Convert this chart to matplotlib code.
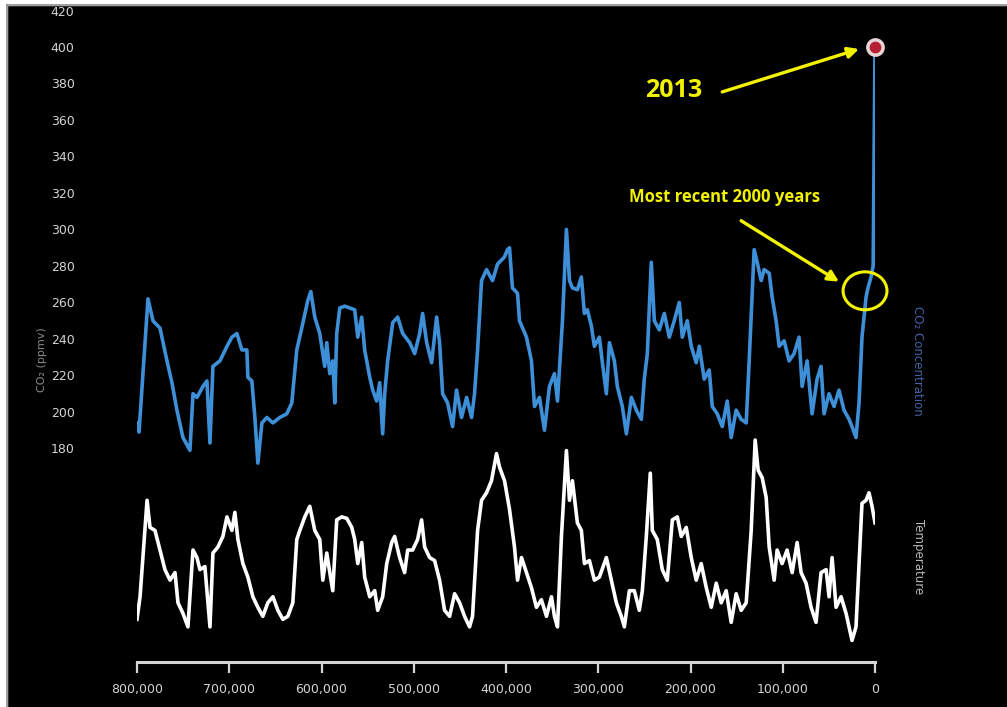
import matplotlib
matplotlib.use("Agg")
import matplotlib.pyplot as plt
from matplotlib.patches import Ellipse, Rectangle
from matplotlib.lines import Line2D

# CO2 from ice cores: age in thousands of years before present, ppmv
co2_age = [800.0, 797.8, 788.1, 782.7, 775.1, 767.5, 762.1, 756.7, 750.2, 742.6,
           739.3, 735.0, 728.5, 724.2, 720.9, 717.7, 710.1, 702.5, 697.1, 691.7,
           686.3, 680.9, 679.8, 675.5, 672.2, 669.0, 664.6, 659.2, 652.7, 645.2,
           637.6, 632.2, 626.8, 621.4, 614.9, 611.6, 607.3, 601.9, 596.5, 594.3,
           591.0, 587.8, 585.6, 583.5, 580.2, 574.8, 569.4, 564.0, 560.7, 556.4,
           553.2, 547.7, 544.5, 540.2, 536.9, 533.7, 531.5, 528.3, 522.8, 517.4,
           512.0, 504.4, 499.0, 493.6, 490.4, 486.0, 480.6, 475.2, 472.0, 468.7,
           463.3, 457.9, 453.6, 448.2, 442.7, 437.3, 434.1, 430.8, 426.5, 421.1,
           414.6, 409.2, 401.6, 398.4, 396.2, 393.0, 387.5, 385.4, 377.8, 372.4,
           369.1, 363.7, 358.3, 352.9, 347.5, 344.2, 338.8, 334.5, 331.2, 328.0,
           322.6, 318.3, 315.0, 311.8, 307.4, 304.2, 298.8, 295.5, 291.2, 287.9,
           282.5, 279.3, 273.9, 269.5, 264.1, 258.7, 253.3, 250.1, 246.8, 242.5,
           239.2, 233.8, 228.4, 223.0, 217.6, 212.2, 208.9, 203.5, 199.2, 193.8,
           190.5, 185.1, 179.7, 176.4, 171.0, 165.6, 160.2, 155.9, 150.5, 145.1,
           139.6, 136.4, 131.0, 127.7, 123.4, 120.2, 114.7, 111.5, 107.2, 103.9,
           98.5, 93.1, 87.7, 82.3, 79.0, 73.6, 68.2, 62.8, 58.5, 55.2,
           49.8, 44.4, 39.0, 33.6, 28.1, 24.9, 20.6, 17.3, 14.1, 9.7,
           7.6, 4.3, 2.0, 0.0]
co2_ppm = [194, 189, 262, 250, 246, 228, 216, 201, 186, 179,
           210, 208, 214, 217, 183, 225, 228, 236, 241, 243,
           234, 234, 219, 217, 197, 172, 194, 197, 194, 197,
           199, 205, 234, 246, 261, 266, 252, 243, 225, 238,
           221, 228, 205, 243, 257, 258, 257, 256, 241, 252,
           234, 219, 212, 206, 216, 188, 210, 228, 249, 252,
           243, 238, 232, 243, 254, 238, 227, 252, 238, 210,
           205, 192, 212, 197, 208, 197, 210, 234, 272, 278,
           272, 281, 285, 289, 290, 268, 265, 250, 241, 228,
           203, 208, 190, 214, 221, 206, 250, 300, 272, 268,
           267, 274, 254, 256, 247, 236, 241, 227, 210, 238,
           228, 214, 203, 188, 208, 201, 196, 218, 232, 282,
           250, 245, 254, 241, 250, 260, 241, 250, 236, 227,
           236, 218, 223, 203, 199, 192, 206, 186, 201, 196,
           194, 228, 289, 282, 272, 278, 276, 263, 250, 236,
           239, 228, 232, 241, 214, 228, 199, 218, 225, 199,
           210, 203, 212, 201, 196, 192, 186, 205, 241, 263,
           268, 274, 280, 400]

# Temperature anomaly (deg C), same age units
temp_age = [800.0, 796.7, 789.1, 785.9, 780.5, 775.1, 769.7, 764.2, 758.8, 755.6,
            750.2, 744.8, 739.3, 735.0, 731.8, 726.4, 720.9, 717.7, 712.3, 706.9,
            702.5, 697.1, 693.9, 690.6, 685.2, 679.8, 674.4, 669.0, 663.6, 658.2,
            652.7, 647.3, 641.9, 636.5, 631.1, 626.8, 623.5, 618.1, 612.7, 607.3,
            601.9, 598.6, 594.3, 591.0, 587.8, 583.5, 578.1, 572.6, 567.2, 564.0,
            560.7, 556.4, 553.2, 547.7, 542.3, 539.1, 533.7, 529.3, 523.9, 520.7,
            515.3, 509.9, 506.6, 501.2, 495.8, 491.5, 488.2, 482.8, 477.4, 472.0,
            466.6, 461.1, 455.7, 450.3, 444.9, 439.5, 436.3, 430.8, 426.5, 421.1,
            415.7, 410.3, 407.0, 401.6, 396.2, 390.8, 387.5, 383.2, 377.8, 372.4,
            367.0, 361.6, 356.1, 350.7, 347.5, 344.2, 339.9, 334.5, 331.2, 328.0,
            322.6, 318.3, 315.0, 309.6, 304.2, 298.8, 291.2, 285.8, 280.4, 275.0,
            271.7, 266.3, 260.9, 255.5, 252.2, 247.9, 243.6, 241.4, 236.0, 230.6,
            225.2, 219.7, 214.3, 210.0, 204.6, 199.2, 193.8, 188.4, 182.9, 177.5,
            172.1, 166.7, 161.3, 155.9, 150.5, 145.1, 139.6, 134.2, 129.9, 126.7,
            122.3, 118.0, 114.7, 109.3, 106.1, 100.7, 95.3, 89.8, 84.4, 80.1,
            74.7, 69.3, 63.9, 58.5, 53.0, 49.8, 46.5, 42.2, 36.8, 31.4,
            28.1, 24.9, 20.6, 17.3, 14.1, 9.7, 6.5, 3.2, 0.0]
temp_anom = [-8.1, -6.6, -0.2, -2.0, -2.2, -3.5, -4.8, -5.5, -5.0, -7.0,
             -7.7, -8.6, -3.5, -4.0, -4.8, -4.6, -8.6, -3.7, -3.3, -2.6,
             -1.3, -2.2, -1.0, -2.8, -4.4, -5.3, -6.6, -7.3, -7.9, -7.0,
             -6.6, -7.5, -8.1, -7.9, -7.0, -2.8, -2.2, -1.3, -0.6, -2.2,
             -2.8, -5.5, -3.7, -5.0, -6.2, -1.5, -1.3, -1.4, -2.0, -2.8,
             -4.4, -3.0, -5.3, -6.6, -6.2, -7.5, -6.6, -4.4, -3.0, -2.6,
             -4.0, -5.0, -3.5, -3.5, -2.8, -1.5, -3.3, -4.0, -4.2, -5.5,
             -7.5, -7.9, -6.4, -7.0, -7.9, -8.6, -7.9, -2.2, -0.2, 0.3,
             1.1, 2.9, 2.0, 1.1, -0.8, -3.3, -5.5, -4.0, -5.0, -6.0,
             -7.3, -6.8, -7.9, -6.6, -7.9, -8.6, -2.6, 3.1, -0.2, 1.1,
             -1.7, -2.2, -4.4, -4.2, -5.5, -5.3, -4.0, -5.5, -7.0, -7.9,
             -8.6, -6.2, -6.2, -7.5, -6.2, -2.6, 1.6, -2.2, -2.8, -4.8,
             -5.5, -1.5, -1.3, -2.6, -2.0, -4.0, -5.5, -4.4, -6.0, -7.3,
             -5.7, -7.0, -6.2, -8.3, -6.4, -7.5, -7.0, -2.2, 3.8, 1.8,
             1.3, 0.0, -3.3, -5.5, -3.5, -4.4, -3.5, -5.0, -3.0, -5.0,
             -5.7, -7.3, -8.3, -5.0, -4.8, -6.6, -4.0, -7.3, -6.6, -7.7,
             -8.6, -9.5, -8.6, -4.4, -0.4, -0.2, 0.3, -0.6, -1.7]

age_ticks = [800, 700, 600, 500, 400, 300, 200, 100, 0]
co2_ticks = list(range(180, 421, 20))

BLUE = "#3d8fd8"
YELLOW = "#f2f200"
GREY = "#d4d4d4"

fig = plt.figure(figsize=(10.07, 7.07), dpi=100, facecolor="black")
ax = fig.add_axes([137 / 1007, 45 / 707, 738 / 1007, 651.5 / 707])
ax.set_facecolor("black")

ax.plot(co2_age, co2_ppm, color=BLUE, lw=2.6, solid_joinstyle="round", zorder=3)
ax.plot([co2_age[-1]], [co2_ppm[-1]], marker="o", ms=11, mfc="#b52035",
        mec="#e8d4d6", mew=2.5, zorder=5, clip_on=False)

ax.set_xlim(800, 0)
ax.set_ylim(63, 420)

for side in ["left", "right", "top"]:
    ax.spines[side].set_visible(False)
ax.spines["bottom"].set_color(GREY)
ax.spines["bottom"].set_linewidth(2.2)

ax.set_xticks(age_ticks)
ax.set_xticklabels(["{:,}".format(a * 1000) for a in age_ticks])
ax.set_yticks(co2_ticks)
ax.tick_params(axis="x", colors=GREY, length=8, width=1.6, pad=7, labelsize=9)
ax.tick_params(axis="y", colors=GREY, length=0, pad=45, labelsize=9)

# temperature on its own hidden scale
ax2 = ax.twinx()
ax2.plot(temp_age, temp_anom, color="white", lw=2.6, solid_joinstyle="round")
ax2.set_ylim(-10.93, 32.3)
ax2.set_xlim(800, 0)
ax2.axis("off")

# annotations
ax.annotate("", xy=(17.3, 398.9), xytext=(165.6, 375.4),
            arrowprops=dict(arrowstyle="-|>", color=YELLOW, lw=2.4,
                            mutation_scale=16, shrinkA=0, shrinkB=0), zorder=6)
ax.text(218.7, 375.9, "2013", color=YELLOW, fontsize=18, fontweight="bold",
        family="Open Sans", ha="center", va="center")
ax.text(163.5, 317.9, "Most recent 2000 years", color=YELLOW, fontsize=12,
        fontweight="bold", family="Open Sans", ha="center", va="center")
ax.annotate("", xy=(39.0, 271.4), xytext=(145.1, 304.8),
            arrowprops=dict(arrowstyle="-|>", color=YELLOW, lw=2.4,
                            mutation_scale=16, shrinkA=0, shrinkB=0), zorder=6)
ax.add_patch(Ellipse((10.8, 266.4), 47.6, 20.8, fill=False, ec=YELLOW, lw=2.2,
                     zorder=6, clip_on=False))

# axis captions
fig.text(42 / 1007, 0.491, "CO₂ (ppmv)", color="#8a8a8a", fontsize=8,
         rotation=90, ha="center", va="center")
fig.text(918 / 1007, 0.489, "CO₂ Concentration", color="#4463a6", fontsize=8.5,
         rotation=270, ha="center", va="center")
fig.text(918 / 1007, 0.212, "Temperature", color="#b8b8b8", fontsize=8.5,
         rotation=270, ha="center", va="center")

# light frame along the top and left edges
fig.add_artist(Rectangle((0, 1 - 4.5 / 707), 1, 4.5 / 707, transform=fig.transFigure,
                         color="white", zorder=20))
fig.add_artist(Rectangle((0, 0), 6.5 / 1007, 1, transform=fig.transFigure,
                         color="white", zorder=20))
fig.add_artist(Line2D([6.5 / 1007, 1], [1 - 4.8 / 707] * 2, transform=fig.transFigure,
                      color="#8c8c8c", lw=1.2, zorder=21))
fig.add_artist(Line2D([6.8 / 1007] * 2, [0, 1 - 4.8 / 707], transform=fig.transFigure,
                      color="#8c8c8c", lw=1.2, zorder=21))

fig.savefig("out.png", dpi=100, facecolor="black")
